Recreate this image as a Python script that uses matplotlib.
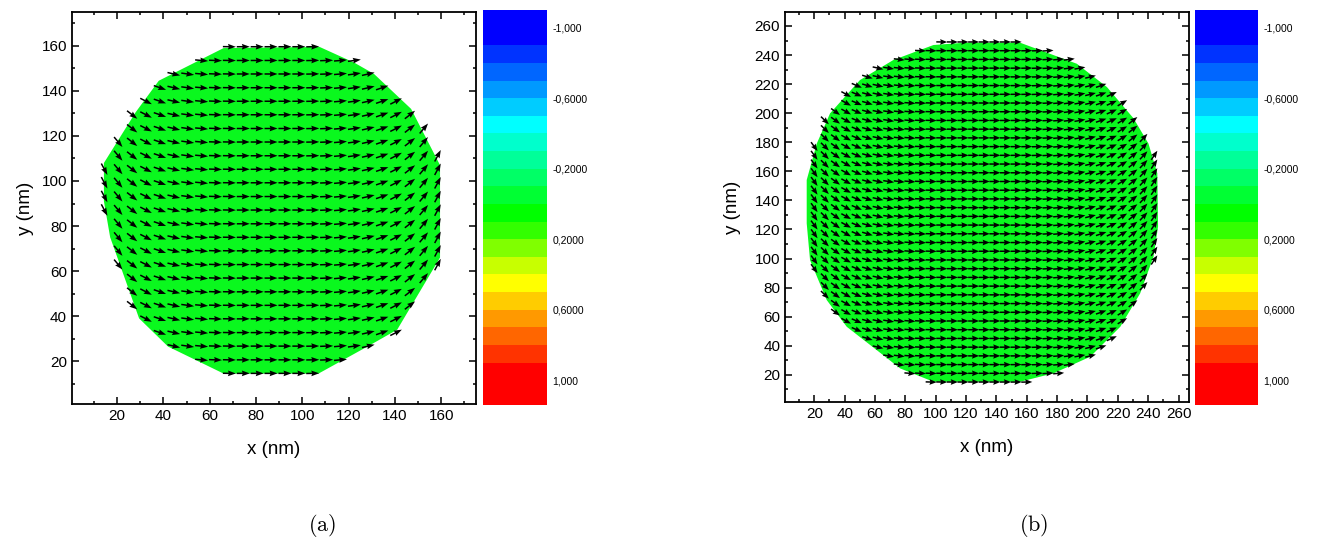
import numpy as np
import matplotlib
matplotlib.use("Agg")
import matplotlib.pyplot as plt
import matplotlib.colorbar as mcb
from matplotlib.path import Path
from matplotlib.colors import ListedColormap, BoundaryNorm
from matplotlib.ticker import MultipleLocator

plt.rcParams["font.family"] = ["Liberation Sans", "DejaVu Sans"]
plt.rcParams["mathtext.fontset"] = "cm"

# ---- colour scale (mz) ----
cbar_colors = ["#0000FF", "#0033FF", "#0066FF", "#0099FF", "#00CCFF", "#00FFFF",
               "#00FFCC", "#00FF99", "#00FF66", "#00FF33", "#00FF00", "#33FF00",
               "#80FF00", "#C8FF00", "#FFFF00", "#FFCC00", "#FF9900", "#FF6600",
               "#FF3300", "#FF0000"]
cbar_bounds = [-1.1, -0.9, -0.8, -0.7, -0.6, -0.5, -0.4, -0.3, -0.2, -0.1, 0.0,
               0.1, 0.2, 0.3, 0.4, 0.5, 0.6, 0.7, 0.8, 0.9, 1.14]
cbar_ticks = [-1.0, -0.6, -0.2, 0.2, 0.6, 1.0]
cbar_labels = ["-1,000", "-0,6000", "-0,2000", "0,2000", "0,6000", "1,000"]

# ---- panel (a): 175 nm disk ----
disk_a = [(66, 14.5), (107, 14.5), (129, 27), (141, 34), (159.5, 66), (159.5, 107),
          (147, 132), (131, 147.5), (122.5, 152.5), (107.5, 159.5), (66, 159),
          (38, 144.5), (28, 130.5), (14.3, 108), (14.3, 91), (17, 75), (29.5, 39),
          (42, 26.5)]
rows_a = [14.6, 20.6, 26.7, 32.7, 38.8, 44.8, 50.8, 56.9, 62.9, 69.0, 75.0, 81.0,
          87.1, 93.1, 99.2, 105.2, 111.2, 117.3, 123.3, 129.4, 135.4, 141.4, 147.5,
          153.5, 159.6]
cols_a = [14.5, 20.5, 26.5, 32.5, 38.5, 44.5, 50.5, 56.5, 62.5, 68.5, 74.5, 80.5,
          86.5, 92.5, 98.5, 104.5, 110.5, 116.5, 122.5, 128.5, 134.5, 140.5, 146.5,
          152.5, 158.5]
tilt_a = [-62, -50, -38, -27, -19, -13, -8, -5, -2, -1, 0, 0, 0, 0, 0, 1, 2, 5, 8,
          13, 19, 27, 38, 50, 62]

# ---- panel (b): 270 nm disk ----
disk_b = [(98.5, 15.2), (155.6, 15.2), (177.6, 21), (201.8, 32.4), (221.6, 53),
          (234.7, 76), (243.5, 101.2), (246.5, 122), (246, 158.6), (240.2, 179),
          (230.3, 196.5), (212.8, 218), (193, 234), (155.6, 248.5), (119.4, 248.5),
          (98.5, 246.9), (72.1, 236.6), (50.1, 222.8), (30.4, 199.9), (21.6, 179),
          (15, 154), (15, 124.2), (17.2, 98.9), (28.2, 71.4), (41.4, 53), (61.1, 37),
          (76.5, 24.4)]
rows_b = [15, 21, 27, 33, 39, 45, 51, 57, 63, 69, 75, 81, 87, 93, 99, 105, 111, 117,
          123, 129, 135, 141, 147, 153, 159, 165, 171, 177, 183, 189, 195, 201, 207,
          213, 219, 225, 231, 237, 243, 249]
cols_b = [13, 20, 27, 34, 41, 48, 55, 62, 69, 76, 83, 90, 97, 104, 111, 118, 125,
          132, 139, 146, 153, 160, 167, 174, 181, 188, 195, 202, 209, 216, 223, 230,
          237, 244, 251]
tilt_b = [-64, -54, -44, -36, -29, -23, -17, -13, -9, -6.6, -4.4, -2.7, -1.6, -0.8,
          -0.3, 0, 0, 0, 0, 0.1, 0.4, 1.0, 1.8, 3.1, 4.9, 7.3, 10, 14, 19, 24, 31,
          38, 47, 56, 62]

cmap = ListedColormap(cbar_colors)
norm = BoundaryNorm(cbar_bounds, cmap.N)

fig = plt.figure(figsize=(13.18, 5.42), dpi=100)


def panel(ax_rect, cb_rect, disk, rows, cols, tilt, xlim, ylim, arrow_px, shaft, head, label_off):
    ax = fig.add_axes(ax_rect)
    verts = np.array(disk)
    ax.fill(verts[:, 0], verts[:, 1], color="#0AF81E", lw=0, zorder=1)

    # arrows on the grid nodes that fall in the disk
    X, Y = np.meshgrid(cols, rows)
    T = np.meshgrid(tilt, rows)[0]
    c = verts.mean(axis=0)
    inside = Path(c + (verts - c) * 1.015).contains_points(np.c_[X.ravel(), Y.ravel()])
    X, Y, T = X.ravel()[inside], Y.ravel()[inside], np.radians(T.ravel()[inside])
    ax.quiver(X, Y, np.cos(T), np.sin(T), angles="uv", pivot="middle", units="dots",
              width=shaft, scale_units="inches", scale=100.0 / arrow_px,
              headwidth=head[0], headlength=head[1], headaxislength=head[1] - 0.5,
              color="black", zorder=3)

    ax.set_xlim(*xlim)
    ax.set_ylim(*ylim)
    ax.xaxis.set_major_locator(MultipleLocator(20))
    ax.yaxis.set_major_locator(MultipleLocator(20))
    ax.xaxis.set_minor_locator(MultipleLocator(10))
    ax.yaxis.set_minor_locator(MultipleLocator(10))
    ax.tick_params(which="both", direction="in", top=True, right=True, labelsize=11)
    ax.tick_params(which="major", length=5, width=1.1)
    ax.tick_params(which="minor", length=2.5, width=1.1)
    for s in ax.spines.values():
        s.set_linewidth(1.3)
    ax.set_xlabel("x (nm)", fontsize=13.5)
    ax.set_ylabel("y (nm)", fontsize=13.5)
    ax.xaxis.set_label_coords(0.5, -0.095)
    ax.yaxis.set_label_coords(label_off, 0.5)

    cax = fig.add_axes(cb_rect)
    cb = mcb.ColorbarBase(cax, cmap=cmap, norm=norm, boundaries=cbar_bounds,
                          spacing="proportional", ticks=cbar_ticks)
    cax.invert_yaxis()
    cb.outline.set_visible(False)
    cax.minorticks_off()
    cb.set_ticklabels(cbar_labels)
    cax.tick_params(which="both", length=0, labelsize=7.5, pad=4)
    return ax


panel([0.0546, 0.2546, 0.3065, 0.7232], [0.3665, 0.2528, 0.0486, 0.7288],
      disk_a, rows_a, cols_a, tilt_a, (0.5, 175), (1, 175), 13, 1.5, (3.8, 5.3), -0.095)
panel([0.5956, 0.2576, 0.3062, 0.7202], [0.9067, 0.2528, 0.0478, 0.7288],
      disk_b, rows_b, cols_b, tilt_b, (0.7, 266.6), (1, 269.6), 11, 1.5, (3.8, 4.8), -0.11)

fig.text(0.2443, 0.031, r"$\mathrm{(a)}$", fontsize=16, ha="center", va="center")
fig.text(0.7845, 0.031, r"$\mathrm{(b)}$", fontsize=16, ha="center", va="center")

fig.savefig("out.png", dpi=100)
